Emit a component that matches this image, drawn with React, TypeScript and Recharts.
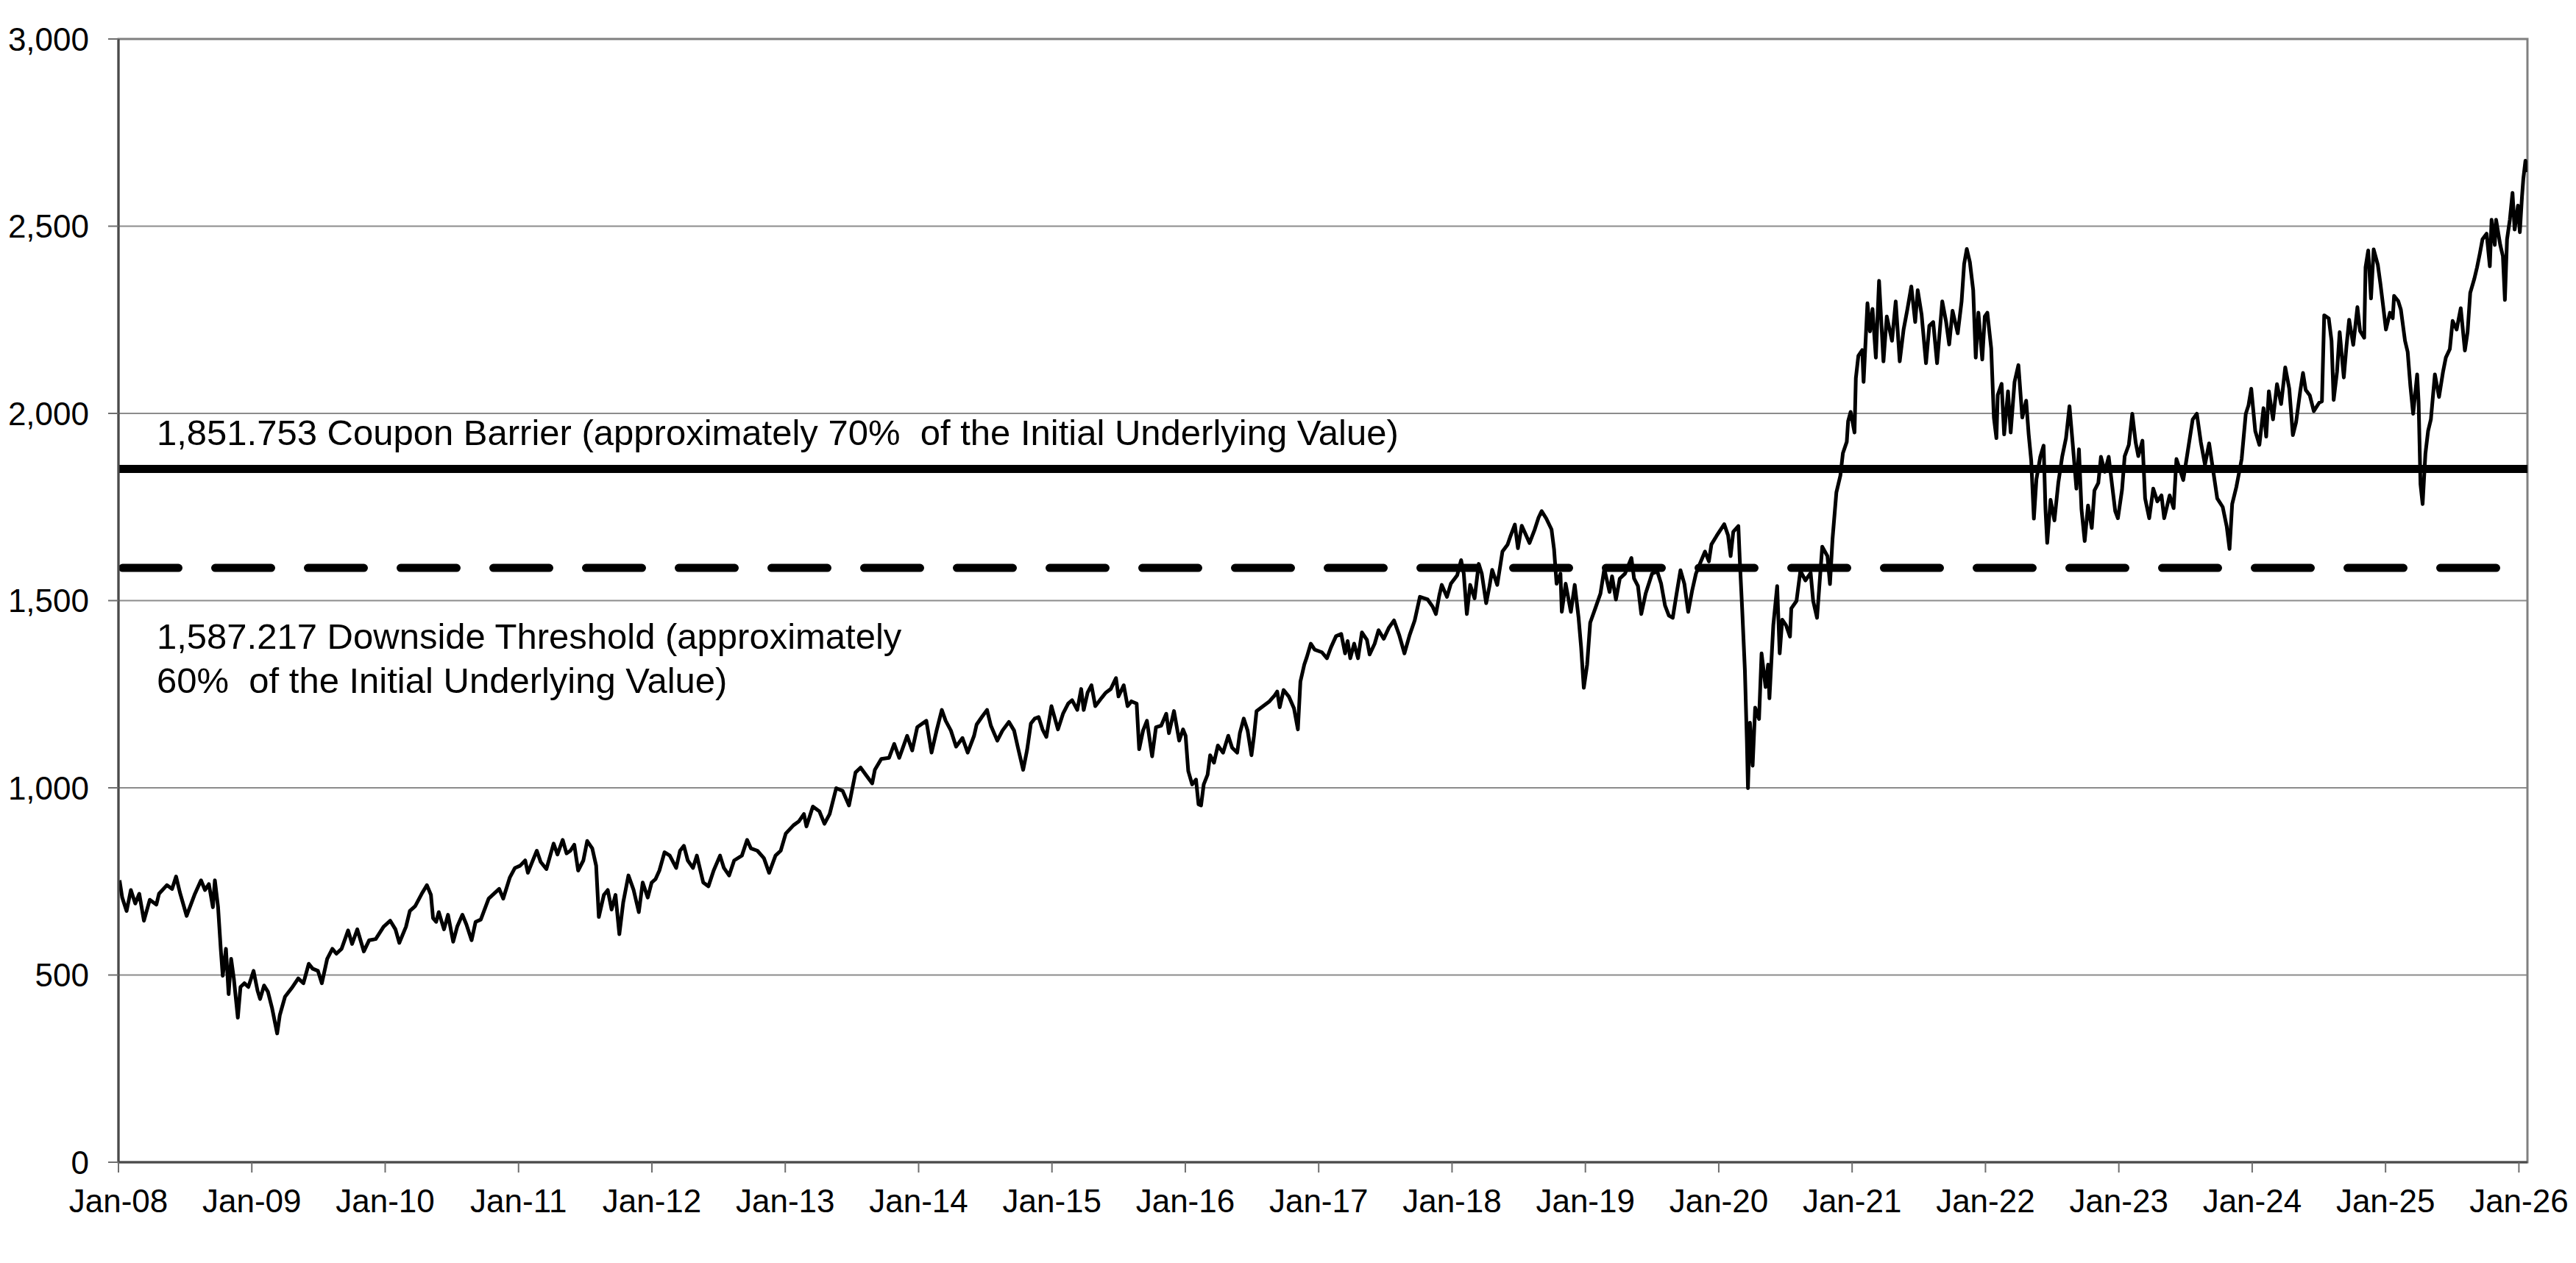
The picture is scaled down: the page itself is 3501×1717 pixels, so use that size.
import React from "react";
import {
  LineChart, Line, CartesianGrid, XAxis, YAxis, ReferenceLine, ReferenceArea, Label
} from "recharts";

// [fraction of year, index level]
const seg2008to2010: [number, number][] = [
  [2008.008,753],[2008.028,707],[2008.061,671],[2008.093,727],[2008.126,691],[2008.156,717],[2008.191,645],[2008.235,701],[2008.284,688],[2008.304,717],[2008.363,740],[2008.402,730],[2008.432,763],[2008.461,720],[2008.511,658],[2008.570,714],[2008.619,753],[2008.649,727],[2008.678,743],[2008.708,681],[2008.723,753],[2008.747,681],[2008.767,570],[2008.782,498],[2008.806,570],[2008.826,449],[2008.845,543],[2008.865,491],[2008.895,386],[2008.915,468],[2008.944,478],[2008.974,468],
  [2009.013,511],[2009.043,458],[2009.062,436],[2009.092,472],[2009.121,455],[2009.151,413],[2009.190,344],[2009.210,393],[2009.249,442],[2009.299,465],[2009.348,491],[2009.387,478],[2009.427,530],[2009.456,517],[2009.496,511],[2009.525,478],[2009.565,543],[2009.604,570],[2009.634,557],[2009.673,570],[2009.722,619],[2009.752,583],[2009.791,622],[2009.840,563],[2009.880,593],[2009.929,596],[2009.988,629],
  [2010.038,645],[2010.077,622],[2010.106,586],[2010.156,629],[2010.185,671],[2010.225,684],[2010.274,717],[2010.313,740],[2010.343,714],[2010.359,652],[2010.382,642],[2010.402,668],[2010.441,622],[2010.471,661],[2010.510,589],[2010.540,629],[2010.579,661],[2010.609,635],[2010.648,593],[2010.678,642],[2010.717,648],[2010.776,704],[2010.855,730],[2010.885,704],[2010.934,760],
];

const seg2011to2013: [number, number][] = [
  [2010.973,786],[2011.012,792],[2011.050,806],[2011.070,773],[2011.099,799],[2011.137,832],[2011.166,802],[2011.209,783],[2011.263,851],[2011.292,822],[2011.331,861],[2011.360,825],[2011.389,832],[2011.418,848],[2011.447,779],[2011.486,806],[2011.515,858],[2011.553,838],[2011.582,792],[2011.602,655],[2011.640,714],[2011.669,727],[2011.698,675],[2011.727,714],[2011.756,609],[2011.785,694],[2011.824,766],[2011.863,727],[2011.902,668],[2011.931,747],[2011.969,707],[2011.998,747],
  [2012.027,756],[2012.056,779],[2012.095,828],[2012.134,819],[2012.182,786],[2012.211,832],[2012.240,845],[2012.269,806],[2012.308,786],[2012.337,819],[2012.385,747],[2012.424,737],[2012.463,779],[2012.511,819],[2012.540,786],[2012.579,766],[2012.617,806],[2012.675,819],[2012.714,861],[2012.743,838],[2012.791,832],[2012.840,812],[2012.879,773],[2012.927,819],[2012.966,832],
  [2013.004,878],[2013.062,900],[2013.101,910],[2013.140,930],[2013.159,897],[2013.207,950],[2013.256,937],[2013.294,904],[2013.333,930],[2013.382,999],[2013.430,992],[2013.478,953],[2013.527,1041],[2013.565,1054],[2013.604,1035],[2013.652,1012],[2013.672,1048],[2013.720,1077],[2013.778,1080],[2013.817,1117],[2013.855,1080],[2013.914,1139],[2013.952,1100],
];

const seg2014to2016: [number, number][] = [
  [2013.990,1162],[2014.058,1179],[2014.097,1094],[2014.135,1153],[2014.174,1208],[2014.203,1179],[2014.242,1153],[2014.281,1110],[2014.329,1133],[2014.368,1094],[2014.416,1139],[2014.435,1169],[2014.474,1189],[2014.513,1208],[2014.542,1166],[2014.590,1126],[2014.629,1153],[2014.677,1176],[2014.716,1153],[2014.745,1107],[2014.784,1048],[2014.813,1100],[2014.842,1172],[2014.871,1185],[2014.900,1189],[2014.929,1156],[2014.958,1136],[2014.996,1218],
  [2015.045,1156],[2015.083,1198],[2015.122,1225],[2015.151,1234],[2015.190,1208],[2015.219,1264],[2015.238,1208],[2015.267,1254],[2015.296,1274],[2015.325,1218],[2015.374,1241],[2015.403,1254],[2015.441,1264],[2015.480,1293],[2015.499,1244],[2015.538,1274],[2015.567,1218],[2015.596,1231],[2015.635,1225],[2015.654,1103],[2015.683,1153],[2015.712,1179],[2015.751,1084],[2015.780,1162],[2015.819,1166],[2015.857,1198],[2015.877,1146],[2015.915,1205],[2015.954,1126],[2015.983,1156],
  [2016.002,1139],[2016.022,1045],[2016.051,1009],[2016.080,1022],[2016.099,956],[2016.118,953],[2016.138,1009],[2016.167,1035],[2016.186,1087],[2016.215,1067],[2016.244,1113],[2016.283,1094],[2016.322,1139],[2016.351,1107],[2016.389,1094],[2016.409,1146],[2016.438,1185],[2016.467,1153],[2016.496,1087],[2016.515,1139],[2016.534,1205],[2016.583,1218],[2016.631,1231],[2016.670,1247],[2016.689,1257],[2016.708,1215],[2016.737,1261],[2016.776,1244],[2016.815,1212],[2016.844,1156],[2016.863,1284],[2016.892,1329],[2016.911,1349],[2016.941,1385],[2016.970,1369],
];

const seg2017to2019: [number, number][] = [
  [2017.024,1362],[2017.062,1346],[2017.092,1375],[2017.130,1405],[2017.169,1411],[2017.198,1359],[2017.217,1392],[2017.237,1346],[2017.266,1385],[2017.295,1346],[2017.324,1415],[2017.362,1395],[2017.382,1356],[2017.420,1385],[2017.449,1421],[2017.488,1398],[2017.527,1428],[2017.565,1447],[2017.604,1408],[2017.643,1359],[2017.682,1408],[2017.720,1447],[2017.759,1510],[2017.817,1503],[2017.856,1483],[2017.879,1464],[2017.904,1513],[2017.923,1542],[2017.962,1510],[2017.991,1545],
  [2018.039,1568],[2018.068,1608],[2018.088,1572],[2018.111,1464],[2018.136,1542],[2018.169,1506],[2018.200,1598],[2018.223,1572],[2018.256,1493],[2018.281,1539],[2018.301,1582],[2018.339,1542],[2018.378,1631],[2018.417,1650],[2018.436,1670],[2018.471,1703],[2018.494,1640],[2018.523,1700],[2018.581,1654],[2018.620,1690],[2018.649,1722],[2018.672,1739],[2018.707,1719],[2018.746,1690],[2018.765,1637],[2018.784,1545],[2018.813,1572],[2018.823,1470],[2018.852,1545],[2018.891,1470],[2018.920,1542],[2018.949,1454],[2018.968,1375],[2018.988,1267],
  [2019.013,1329],[2019.036,1441],[2019.075,1480],[2019.113,1519],[2019.142,1585],[2019.181,1523],[2019.200,1565],[2019.229,1503],[2019.258,1559],[2019.297,1572],[2019.345,1614],[2019.365,1559],[2019.394,1539],[2019.419,1464],[2019.452,1519],[2019.500,1572],[2019.539,1578],[2019.568,1545],[2019.597,1487],[2019.626,1460],[2019.655,1454],[2019.684,1519],[2019.713,1581],[2019.742,1545],[2019.771,1470],[2019.800,1526],[2019.829,1572],[2019.858,1598],[2019.897,1631],[2019.926,1605],[2019.945,1650],[2019.984,1673],
];

const seg2020to2022: [number, number][] = [
  [2020.041,1704],[2020.070,1674],[2020.089,1619],[2020.109,1684],[2020.147,1699],[2020.157,1614],[2020.176,1474],[2020.196,1314],[2020.211,1124],[2020.219,999],[2020.234,1174],[2020.254,1059],[2020.273,1214],[2020.302,1184],[2020.321,1359],[2020.351,1269],[2020.370,1329],[2020.380,1239],[2020.409,1434],[2020.438,1539],[2020.457,1359],[2020.476,1449],[2020.505,1434],[2020.534,1404],[2020.544,1479],[2020.583,1499],[2020.612,1579],[2020.650,1554],[2020.689,1574],[2020.708,1499],[2020.737,1454],[2020.776,1644],[2020.815,1619],[2020.834,1544],[2020.853,1664],[2020.882,1789],[2020.912,1834],[2020.931,1894],[2020.960,1924],[2020.970,1979],[2020.989,2004],
  [2021.018,1949],[2021.028,2094],[2021.047,2154],[2021.076,2169],[2021.086,2084],[2021.115,2294],[2021.134,2219],[2021.153,2279],[2021.178,2149],[2021.202,2354],[2021.235,2139],[2021.260,2259],[2021.299,2194],[2021.327,2299],[2021.357,2139],[2021.386,2224],[2021.415,2279],[2021.444,2339],[2021.473,2244],[2021.492,2329],[2021.521,2264],[2021.554,2134],[2021.579,2234],[2021.608,2244],[2021.637,2134],[2021.676,2299],[2021.705,2244],[2021.728,2184],[2021.753,2274],[2021.792,2214],[2021.821,2299],[2021.840,2399],[2021.860,2439],[2021.883,2404],[2021.908,2329],[2021.927,2149],[2021.947,2269],[2021.976,2144],[2021.995,2259],
  [2022.014,2269],[2022.043,2174],[2022.063,1989],[2022.082,1934],[2022.092,2049],[2022.121,2079],[2022.140,1944],[2022.169,2059],[2022.189,1949],[2022.218,2084],[2022.247,2129],[2022.276,1989],[2022.305,2034],[2022.324,1944],[2022.343,1874],[2022.363,1719],[2022.382,1824],[2022.411,1884],[2022.436,1914],[2022.450,1744],[2022.463,1654],[2022.488,1769],[2022.517,1714],[2022.546,1814],[2022.575,1884],[2022.604,1934],[2022.630,2019],[2022.653,1924],[2022.682,1799],[2022.701,1904],[2022.720,1744],[2022.744,1659],[2022.769,1754],[2022.797,1694],[2022.817,1794],[2022.846,1814],[2022.866,1884],[2022.895,1844],[2022.924,1884],
];

const seg2023to2026: [number, number][] = [
  [2022.973,1739],[2022.993,1720],[2023.024,1796],[2023.044,1886],[2023.075,1916],[2023.101,1999],[2023.126,1923],[2023.146,1886],[2023.177,1927],[2023.197,1773],[2023.228,1720],[2023.258,1799],[2023.289,1765],[2023.320,1781],[2023.340,1720],[2023.381,1781],[2023.411,1747],[2023.432,1878],[2023.483,1822],[2023.513,1890],[2023.554,1984],[2023.585,1999],[2023.615,1923],[2023.646,1863],[2023.677,1920],[2023.707,1848],[2023.738,1773],[2023.779,1750],[2023.809,1698],[2023.830,1638],[2023.850,1758],[2023.881,1803],[2023.921,1878],[2023.952,1999],[2023.972,2021],[2023.993,2066],
  [2024.023,1953],[2024.054,1916],[2024.085,2014],[2024.105,1938],[2024.125,2059],[2024.156,1984],[2024.186,2078],[2024.217,2025],[2024.248,2123],[2024.278,2066],[2024.305,1942],[2024.329,1976],[2024.360,2059],[2024.381,2108],[2024.401,2063],[2024.432,2048],[2024.462,2006],[2024.503,2029],[2024.523,2032],[2024.540,2262],[2024.574,2254],[2024.595,2194],[2024.611,2036],[2024.636,2111],[2024.656,2217],[2024.687,2096],[2024.707,2179],[2024.727,2250],[2024.758,2183],[2024.789,2284],[2024.809,2220],[2024.840,2202],[2024.850,2390],[2024.870,2435],[2024.891,2307],[2024.911,2438],[2024.942,2397],[2024.962,2345],[2024.983,2284],
  [2025.003,2224],[2025.033,2269],[2025.054,2254],[2025.064,2314],[2025.095,2300],[2025.115,2277],[2025.146,2194],[2025.166,2164],[2025.186,2074],[2025.207,1999],[2025.237,2104],[2025.248,2029],[2025.262,1811],[2025.278,1758],[2025.299,1893],[2025.319,1953],[2025.340,1984],[2025.370,2104],[2025.401,2044],[2025.431,2111],[2025.452,2149],[2025.482,2172],[2025.503,2247],[2025.533,2224],[2025.564,2281],[2025.595,2168],[2025.615,2217],[2025.635,2322],[2025.666,2360],[2025.686,2390],[2025.707,2427],[2025.727,2465],[2025.758,2480],[2025.782,2393],[2025.795,2517],[2025.819,2450],[2025.829,2517],[2025.860,2450],[2025.880,2420],[2025.895,2303],[2025.911,2465],[2025.932,2517],[2025.952,2589],[2025.968,2491],[2025.993,2555],
  [2026.007,2484],[2026.023,2578],[2026.033,2626],[2026.049,2675],[2026.064,2645],
];

const yearTicks = [2008, 2009, 2010, 2011, 2012, 2013, 2014, 2015, 2016, 2017, 2018, 2019, 2020, 2021, 2022, 2023, 2024, 2025, 2026];
const yearLabels = ["Jan-08", "Jan-09", "Jan-10", "Jan-11", "Jan-12", "Jan-13", "Jan-14", "Jan-15", "Jan-16", "Jan-17", "Jan-18", "Jan-19", "Jan-20", "Jan-21", "Jan-22", "Jan-23", "Jan-24", "Jan-25", "Jan-26"];
const valueTicks = [0, 500, 1000, 1500, 2000, 2500, 3000];

const COUPON_BARRIER = 1851.753;
const DOWNSIDE_THRESHOLD = 1587.217;

const data = [
  ...seg2008to2010, ...seg2011to2013, ...seg2014to2016,
  ...seg2017to2019, ...seg2020to2022, ...seg2023to2026,
].map(([t, v]) => ({ t, v }));

const lastT = data[data.length - 1].t;
const FONT = "'Liberation Sans', Arial, sans-serif";

const couponLabel = (props: any) => {
  const { x, y } = props.viewBox;
  return (
    <text x={x + 52} y={y - 32} fontSize={49} fontFamily={FONT} fill="#000" style={{ whiteSpace: "pre" }}>
      {"1,851.753 Coupon Barrier (approximately 70%  of the Initial Underlying Value)"}
    </text>
  );
};

const thresholdLabel = (props: any) => {
  const { x, y } = props.viewBox;
  return (
    <text x={x + 52} y={y + 110} fontSize={49} fontFamily={FONT} fill="#000" style={{ whiteSpace: "pre" }}>
      <tspan x={x + 52}>{"1,587.217 Downside Threshold (approximately"}</tspan>
      <tspan x={x + 52} dy={60}>{"60%  of the Initial Underlying Value)"}</tspan>
    </text>
  );
};

const App = () => (
  <div style={{ position: "absolute", left: 0, top: 0, width: 3501, height: 1717, background: "#fff" }}>
    <LineChart width={3501} height={1717} data={data} margin={{ top: 53, right: 66, bottom: 37, left: 0 }}>
      <CartesianGrid vertical={false} stroke="#8c8c8c" strokeWidth={2} />
      <ReferenceArea x1={2008} x2={lastT} y1={0} y2={3000} fill="none" stroke="#808080" strokeWidth={3} />
      <XAxis
        dataKey="t"
        type="number"
        domain={[2008, lastT]}
        ticks={yearTicks}
        tickFormatter={(t: number) => yearLabels[yearTicks.indexOf(t)] ?? ""}
        interval={0}
        height={100}
        tickSize={14}
        tickMargin={23}
        axisLine={{ stroke: "#4a4a4a", strokeWidth: 3 }}
        tickLine={{ stroke: "#6e6e6e", strokeWidth: 2 }}
        tick={{ fill: "#000", fontSize: 44, fontFamily: FONT }}
        allowDataOverflow
      />
      <YAxis
        type="number"
        domain={[0, 3000]}
        ticks={valueTicks}
        interval={0}
        width={161}
        tickSize={14}
        tickMargin={26}
        tickFormatter={(v: number) => v.toLocaleString("en-US")}
        axisLine={{ stroke: "#4a4a4a", strokeWidth: 3 }}
        tickLine={{ stroke: "#6e6e6e", strokeWidth: 2 }}
        tick={{ fill: "#000", fontSize: 44, fontFamily: FONT }}
      />
      <ReferenceLine y={COUPON_BARRIER} stroke="#000" strokeWidth={11}>
        <Label content={couponLabel} />
      </ReferenceLine>
      <ReferenceLine
        y={DOWNSIDE_THRESHOLD}
        stroke="#000"
        strokeWidth={11}
        strokeDasharray="76 50"
        strokeDashoffset={-5.5}
        strokeLinecap="round"
      >
        <Label content={thresholdLabel} />
      </ReferenceLine>
      <Line
        type="linear"
        dataKey="v"
        stroke="#000"
        strokeWidth={5}
        strokeLinejoin="round"
        dot={false}
        activeDot={false}
        isAnimationActive={false}
      />
    </LineChart>
  </div>
);

export default App;
